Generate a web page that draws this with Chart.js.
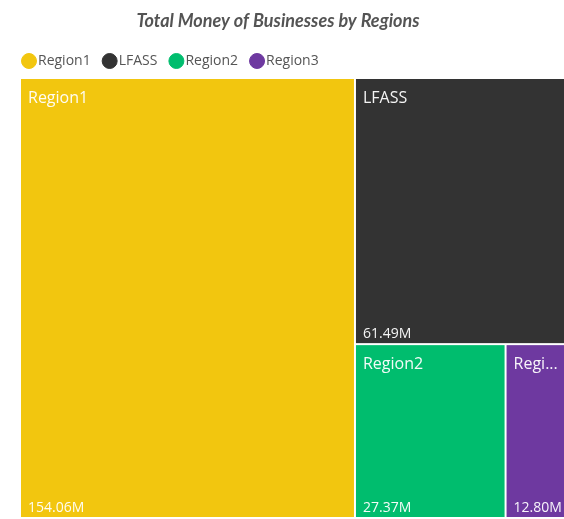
<!DOCTYPE html>
<html>
<head>
<meta charset="utf-8">
<script src="https://cdn.jsdelivr.net/npm/chart.js@4.4.1/dist/chart.umd.min.js"></script>
<style>
  html, body { margin: 0; background: #fff; overflow: hidden; }
  #wrap { width: 564px; height: 519px; overflow: hidden; }
</style>
</head>
<body>
<div id="wrap"><canvas id="treeChart" width="576" height="519"></canvas></div>
<script>
const chartTitle = 'Total Money of Businesses by Regions';
const regions = ['Region1', 'LFASS', 'Region2', 'Region3'];
const totals = [154.06, 61.49, 27.37, 12.80]; // millions
const colors = ['#F2C60F', '#333333', '#00BD6E', '#6E39A0'];

// squarified treemap layout, areas already scaled to w*h
function worst(row, side) {
    const s = row.reduce((a, b) => a + b, 0);
    let m = 0;
    row.forEach(r => {
        m = Math.max(m, (side * side * r) / (s * s), (s * s) / (side * side * r));
    });
    return m;
}

function squarify(areas, x, y, w, h) {
    const out = [];
    let rest = areas.slice();
    while (rest.length) {
        const side = Math.min(w, h);
        let row = [rest[0]];
        let i = 1;
        while (i < rest.length && worst(row.concat(rest[i]), side) <= worst(row, side)) {
            row.push(rest[i]);
            i++;
        }
        const s = row.reduce((a, b) => a + b, 0);
        if (w >= h) {
            const cw = s / h;
            let cy = y;
            row.forEach(a => { out.push({ x: x, y: cy, w: cw, h: a / cw }); cy += a / cw; });
            x += cw; w -= cw;
        } else {
            const rh = s / w;
            let cx = x;
            row.forEach(a => { out.push({ x: cx, y: y, w: a / rh, h: rh }); cx += a / rh; });
            y += rh; h -= rh;
        }
        rest = rest.slice(i);
    }
    return out;
}

function fitText(ctx, text, maxW) {
    if (ctx.measureText(text).width <= maxW) return text;
    let s = text;
    while (s.length && ctx.measureText(s + '...').width > maxW) s = s.slice(0, -1);
    return s + '...';
}

const treemap = {
    id: 'treemap',
    afterDatasetsDraw(chart) {
        const { ctx, chartArea: area, scales: { x, y } } = chart;
        const aspect = area.width / area.height;
        const sum = totals.reduce((a, b) => a + b, 0);
        const cells = squarify(totals.map(v => v / sum * aspect), 0, 0, aspect, 1);

        ctx.save();
        cells.forEach((c, i) => {
            const l = x.getPixelForValue(c.x / aspect) + 1;
            const r = x.getPixelForValue((c.x + c.w) / aspect) - 1;
            const t = y.getPixelForValue(c.y) + 1;
            const b = y.getPixelForValue(c.y + c.h) - 1;
            ctx.fillStyle = colors[i];
            ctx.fillRect(l, t, r - l, b - t);

            ctx.fillStyle = 'rgba(255,255,255,0.95)';
            ctx.textAlign = 'left';
            ctx.textBaseline = 'alphabetic';
            ctx.font = '16px "Open Sans"';
            ctx.fillText(fitText(ctx, regions[i], r - l - 16), l + 7, t + 24);
            ctx.font = '14px "Open Sans"';
            ctx.fillText(fitText(ctx, totals[i].toFixed(2) + 'M', r - l - 16), l + 7, b - 5);
        });
        ctx.restore();
    }
};

const titleText = {
    id: 'titleText',
    afterDraw(chart) {
        const ctx = chart.ctx;
        ctx.save();
        ctx.font = 'italic bold 18px Lato';
        ctx.fillStyle = '#545454';
        ctx.textAlign = 'center';
        ctx.textBaseline = 'alphabetic';
        ctx.fillText(chartTitle, 278, 27);
        ctx.restore();
    }
};

// legend: wide gaps between items but a short box, nudged up/left
const legendTweak = {
    id: 'legendTweak',
    beforeLayout(chart) {
        const legend = chart.legend;
        if (legend && !legend._tweaked) {
            const fit = legend.fit;
            legend.fit = function () { fit.call(this); this.height = 29; };
            legend._tweaked = true;
        }
    },
    afterLayout(chart) {
        chart.legend.left -= 10;
        chart.legend.top -= 12;
    }
};

new Chart(document.getElementById('treeChart'), {
    type: 'scatter',
    data: {
        datasets: regions.map((name, i) => ({
            label: name,
            data: [],
            backgroundColor: colors[i],
            borderColor: colors[i]
        }))
    },
    options: {
        responsive: false,
        animation: false,
        events: [],
        layout: { padding: { left: 20, right: 0, top: 49, bottom: 1 } },
        scales: {
            x: { type: 'linear', display: false, min: 0, max: 1 },
            y: { type: 'linear', display: false, min: 0, max: 1, reverse: true }
        },
        plugins: {
            title: { display: false },
            tooltip: { enabled: false },
            legend: {
                position: 'top',
                align: 'start',
                labels: {
                    usePointStyle: true,
                    pointStyle: 'circle',
                    boxWidth: 4,
                    boxHeight: 10.6,
                    padding: 17,
                    color: '#555555',
                    font: { family: '"Open Sans"', size: 14 }
                }
            }
        }
    },
    plugins: [legendTweak, treemap, titleText]
});
</script>
</body>
</html>
